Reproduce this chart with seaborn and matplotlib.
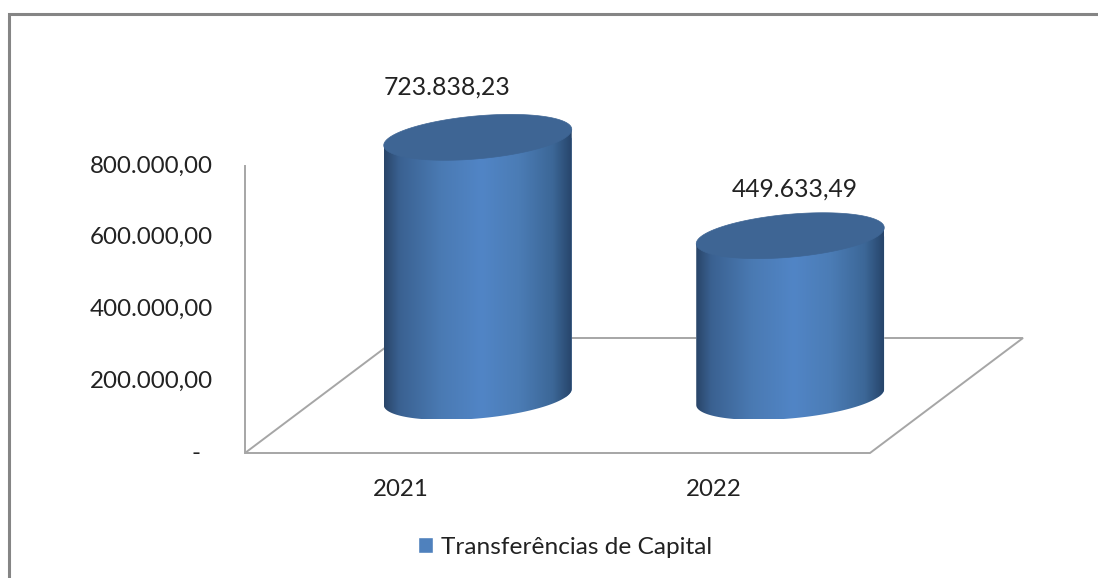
import matplotlib
matplotlib.use('Agg')
from matplotlib.colors import LinearSegmentedColormap
from matplotlib.lines import Line2D
from matplotlib.patches import PathPatch
from matplotlib.path import Path
from matplotlib.transforms import IdentityTransform, ScaledTranslation
import matplotlib.pyplot as plt
import seaborn as sns
import pandas as pd
import numpy as np

anos = ["2021", "2022"]
valores = [723838.23, 449633.49]
y_ticks = [0, 200000, 400000, 600000, 800000]
serie = "Transferências de Capital"

W, H = 1098, 578
line_gray = "#A6A6A6"
text_color = "#222222"

# fake 3D depth, in data units
floor_dx, floor_dy = 0.4896, 320557
bar_dx, bar_dy = 0.2448, 156098


def fmt_br(v):
    if v == 0:
        return "-  "
    return f"{v:,.2f}".replace(",", "#").replace(".", ",").replace("#", ".")


sns.set_theme(style="white")
plt.rcParams['font.family'] = ['Lato', 'DejaVu Sans']

fig = plt.figure(figsize=(W / 100, H / 100), dpi=100, facecolor="white")
ax = fig.add_axes([245 / W, (H - 453) / H, 625 / W, 393 / H])
ax.patch.set_alpha(0)

df = pd.DataFrame({"ano": anos, "valor": valores})
sns.barplot(data=df, x="ano", y="valor", color="#4F81BD", width=0.6016,
            saturation=1, label=serie, ax=ax, zorder=3)

ax.set_xlim(-0.5, 1.5)
ax.set_ylim(0, 393 / 287 * 800000)
ax.set_xlabel("")
ax.set_ylabel("")
ax.set_yticks(y_ticks)
ax.set_yticklabels([fmt_br(v) for v in y_ticks], fontsize=17.4, color=text_color)
ax.tick_params(axis="y", length=0, pad=23)
ax.tick_params(axis="x", length=0, pad=18.5, labelsize=17.3, labelcolor=text_color)

# tick labels sit a little high in the original
for lab in ax.get_yticklabels():
    lab.set_transform(lab.get_transform() + ScaledTranslation(0, 0.02, fig.dpi_scale_trans))

sns.despine(ax=ax, top=True, right=True, bottom=True)
ax.spines["left"].set_bounds(0, 800000)
ax.spines["left"].set_color(line_gray)
ax.spines["left"].set_linewidth(1.4)

# floor of the 3D box
floor_x = [-0.5 + floor_dx, -0.5, 1.5, 1.5 + floor_dx, -0.5 + floor_dx]
floor_y = [floor_dy, 0, 0, floor_dy, floor_dy]
ax.plot(floor_x, floor_y, color=line_gray, lw=1.4, clip_on=False, zorder=1,
        solid_joinstyle="miter")

side_cmap = LinearSegmentedColormap.from_list("cyl", [
    (0.00, "#294569"), (0.08, "#3A6191"), (0.30, "#4A7AB3"), (0.52, "#5185C6"),
    (0.72, "#4B7CB5"), (0.90, "#3C6797"), (1.00, "#27456B"),
])
ramp = np.linspace(0, 1, 256).reshape(1, -1)

label_shift = [(-31, 50), (5, 47)]
t = np.linspace(0, 2 * np.pi, 181)

for bar, valor, shift in zip(ax.patches, valores, label_shift):
    # move the bar back onto the floor
    bar.set_x(bar.get_x() + bar_dx)
    bar.set_y(bar.get_y() + bar_dy)
    x0, x1 = bar.get_x(), bar.get_x() + bar.get_width()
    base, top = bar.get_y(), bar.get_y() + bar.get_height()
    xc = (x0 + x1) / 2

    (px0, py_base), (px1, py_top) = ax.transData.transform([(x0, base), (x1, top)])
    pxc = (px0 + px1) / 2
    a = (px1 - px0) / 2
    b, k = 21.5, 8

    ring_x = pxc + a * np.cos(t)
    ring_y = b * np.sin(t) + k * np.cos(t)

    # side of the cylinder: lower half of the base ring, then up to the top
    lower = (t >= np.pi)
    body = np.vstack([
        np.column_stack([ring_x[lower], py_base + ring_y[lower]]),
        [[px1, py_top + k], [px0, py_top - k]],
    ])
    body_path = Path(np.vstack([body, body[0]]))

    bar.set_clip_box(fig.bbox)
    bar.set_clip_path(body_path, transform=IdentityTransform())
    im = ax.imshow(ramp, cmap=side_cmap, aspect="auto", zorder=4,
                   extent=[x0, x1, base - 60000, top + 60000], interpolation="bilinear")
    im.set_clip_box(fig.bbox)
    im.set_clip_path(body_path, transform=IdentityTransform())

    cap = Path(np.column_stack([ring_x, py_top + ring_y]))
    ax.add_patch(PathPatch(cap, transform=IdentityTransform(), facecolor="#3E6594",
                           edgecolor="#3E6594", lw=0.5, zorder=5, clip_on=False))

    ax.annotate(fmt_br(valor), xy=(xc, top), xytext=shift, textcoords="offset pixels",
                ha="center", va="center", fontsize=17.8, color=text_color,
                annotation_clip=False)

ax.set_xlim(-0.5, 1.5)
ax.set_ylim(0, 393 / 287 * 800000)

leg = ax.legend(loc="center", bbox_to_anchor=(565 / W, (H - 547) / H),
                bbox_transform=fig.transFigure, frameon=False, fontsize=17.6,
                handlelength=0.62, handleheight=0.62, handletextpad=0.3,
                labelcolor=text_color)

# outer frame of the pasted chart
frame = "#858585"
fig.add_artist(Line2D([8.5 / W, 8.5 / W, 1], [0, (H - 13.5) / H, (H - 13.5) / H],
                      transform=fig.transFigure, color=frame, lw=2.2,
                      solid_joinstyle="miter"))

fig.savefig("out.png", dpi=100)
plt.close(fig)
